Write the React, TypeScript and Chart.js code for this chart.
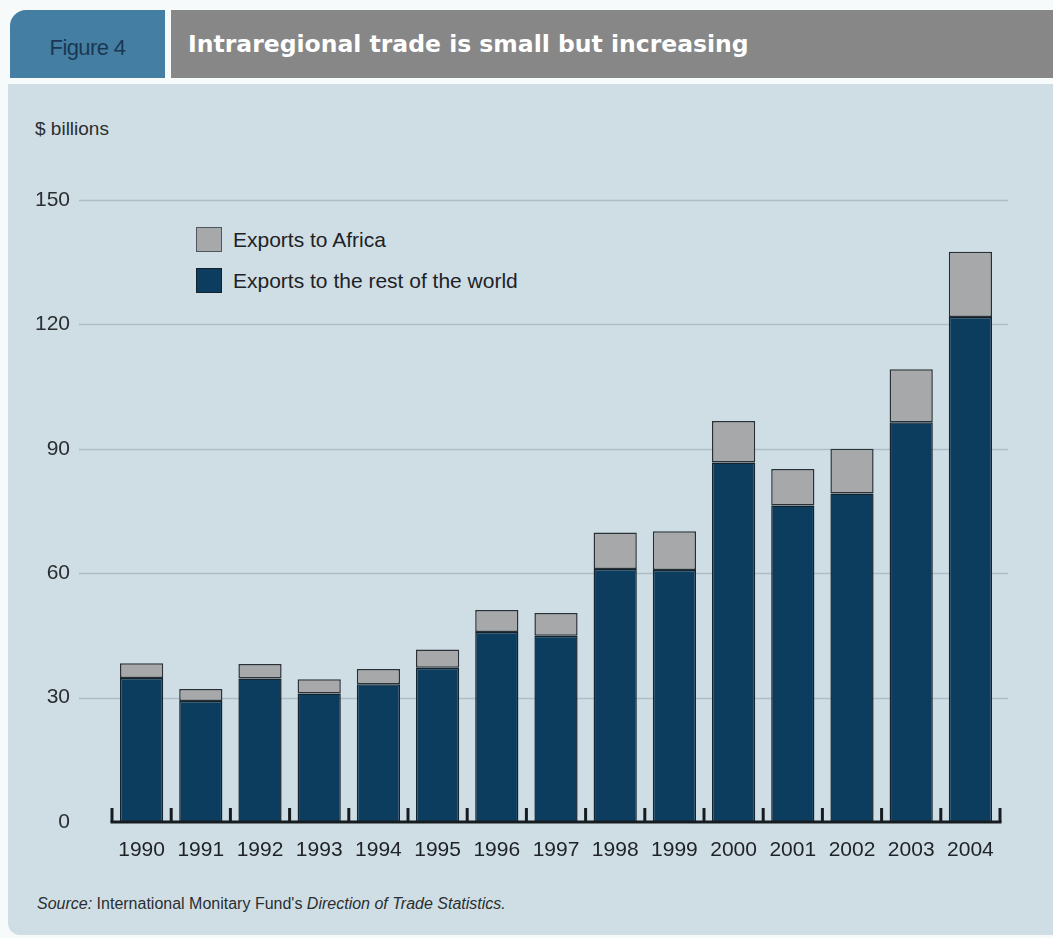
import React, { useEffect, useRef } from "react";
import { Chart, registerables } from "chart.js";

Chart.register(...registerables);

const years = ["1990", "1991", "1992", "1993", "1994", "1995", "1996", "1997", "1998", "1999", "2000", "2001", "2002", "2003", "2004"];
const restOfWorld = [34.7, 29.2, 34.6, 31.0, 33.2, 37.2, 45.8, 44.9, 61.0, 60.8, 86.7, 76.3, 79.2, 96.4, 121.8];
const toAfrica = [3.6, 2.9, 3.5, 3.4, 3.7, 4.4, 5.3, 5.5, 8.8, 9.3, 10.0, 8.8, 10.8, 12.8, 15.7];
const yTicks = [0, 30, 60, 90, 120, 150];

const DARK = "#0c3d5f";
const GREY = "#a6a8a9";
const FONT = "'Liberation Sans', Arial, Helvetica, sans-serif";

const framePlugin = {
  id: "frame",
  beforeDatasetsDraw(chart: any) {
    const { ctx, chartArea, scales } = chart;
    const y = scales.y;
    ctx.save();
    ctx.strokeStyle = "#aebec7";
    ctx.lineWidth = 1.5;
    yTicks.forEach((v) => {
      if (v === 0) return;
      const py = Math.round(y.getPixelForValue(v)) + 0.5;
      ctx.beginPath();
      ctx.moveTo(chartArea.left - 33, py);
      ctx.lineTo(chartArea.right + 8, py);
      ctx.stroke();
    });
    ctx.restore();
  },
  afterDatasetsDraw(chart: any) {
    const { ctx, chartArea, scales } = chart;
    const x = scales.x;
    ctx.save();
    ctx.strokeStyle = "#161c20";
    ctx.lineWidth = 3;
    ctx.beginPath();
    ctx.moveTo(chartArea.left - 1.5, chartArea.bottom);
    ctx.lineTo(chartArea.right + 1.5, chartArea.bottom);
    ctx.stroke();
    for (let i = 0; i <= years.length; i++) {
      const px = x.getPixelForValue(i - 0.5);
      ctx.beginPath();
      ctx.moveTo(px, chartArea.bottom - 14);
      ctx.lineTo(px, chartArea.bottom);
      ctx.stroke();
    }
    ctx.restore();
  },
};

export default function App() {
  const ref = useRef<HTMLCanvasElement>(null);

  useEffect(() => {
    const canvas = ref.current!;
    Chart.defaults.font.family = FONT;
    const chart = new Chart(canvas, {
      type: "bar",
      data: {
        labels: years,
        datasets: [
          {
            label: "Exports to the rest of the world",
            data: restOfWorld,
            backgroundColor: DARK,
            borderColor: "#13222c",
            borderWidth: 1.5,
            borderSkipped: "start",
            stack: "s",
            barPercentage: 0.73,
            categoryPercentage: 1,
          },
          {
            label: "Exports to Africa",
            data: toAfrica,
            backgroundColor: GREY,
            borderColor: "#2a3136",
            borderWidth: 1.5,
            borderSkipped: false,
            stack: "s",
            barPercentage: 0.73,
            categoryPercentage: 1,
          },
        ],
      },
      options: {
        responsive: false,
        animation: false,
        layout: { padding: { top: 200, right: 53, left: 0, bottom: 0 } },
        plugins: { legend: { display: false }, tooltip: { enabled: false } },
        scales: {
          x: {
            stacked: true,
            grid: { display: false, drawTicks: false },
            border: { display: false },
            ticks: { color: "#1e2226", font: { size: 21 }, padding: 16, maxRotation: 0, autoSkip: false },
            afterFit: (s: any) => {
              s.height = 116;
            },
          },
          y: {
            stacked: true,
            min: 0,
            max: 150,
            afterBuildTicks: (s: any) => {
              s.ticks = yTicks.map((v) => ({ value: v }));
            },
            grid: { display: false, drawTicks: false },
            border: { display: false },
            ticks: { color: "#2a2e31", font: { size: 21 }, padding: 42 },
            afterFit: (s: any) => {
              s.width = 112;
            },
          },
        },
      },
      plugins: [framePlugin],
    });
    return () => chart.destroy();
  }, []);

  return (
    <div
      style={{
        position: "absolute",
        left: 0,
        top: 0,
        width: 1053,
        height: 938,
        background: "#f7fafb",
        overflow: "hidden",
        fontFamily: FONT,
      }}
    >
      {/* header */}
      <div
        style={{
          position: "absolute",
          left: 10,
          top: 10,
          width: 155,
          height: 68,
          background: "#457ea3",
          borderTopLeftRadius: 16,
          color: "#1b3853",
          fontSize: 22,
          lineHeight: "68px",
          paddingTop: 4,
          boxSizing: "border-box",
          textAlign: "center",
          letterSpacing: -0.6,
        }}
      >
        Figure 4
      </div>
      <div
        style={{
          position: "absolute",
          left: 171,
          top: 10,
          width: 882,
          height: 68,
          background: "#878787",
          color: "#ffffff",
          fontFamily: "'DejaVu Sans', sans-serif",
          fontWeight: 700,
          fontSize: 23.5,
          lineHeight: "68px",
          paddingLeft: 17,
          boxSizing: "border-box",
          whiteSpace: "nowrap",
        }}
      >
        Intraregional trade is small but increasing
      </div>
      {/* panel */}
      <div
        style={{
          position: "absolute",
          left: 8,
          top: 84,
          width: 1045,
          height: 851,
          background: "#cfdee5",
          borderBottomLeftRadius: 12,
        }}
      />
      <div style={{ position: "absolute", left: 35, top: 118, fontSize: 19, color: "#2a2e31", whiteSpace: "nowrap" }}>
        $ billions
      </div>
      {/* legend */}
      <div style={{ position: "absolute", left: 196, top: 227, width: 24, height: 23, background: GREY, border: "1px solid #50575c" }} />
      <div style={{ position: "absolute", left: 233, top: 227, fontSize: 21, lineHeight: "25px", color: "#1e2226", whiteSpace: "nowrap" }}>
        Exports to Africa
      </div>
      <div style={{ position: "absolute", left: 196, top: 268, width: 24, height: 23, background: DARK, border: "1px solid #13222c" }} />
      <div style={{ position: "absolute", left: 233, top: 268, fontSize: 21, lineHeight: "25px", color: "#1e2226", whiteSpace: "nowrap" }}>
        Exports to the rest of the world
      </div>
      {/* source */}
      <div style={{ position: "absolute", left: 37, top: 895, fontSize: 16, color: "#2a2e31", whiteSpace: "nowrap" }}>
        <i>Source:</i> International Monitary Fund's <i>Direction of Trade Statistics.</i>
      </div>
      <canvas ref={ref} width={1053} height={938} style={{ position: "absolute", left: 0, top: 0, width: 1053, height: 938 }} />
    </div>
  );
}
